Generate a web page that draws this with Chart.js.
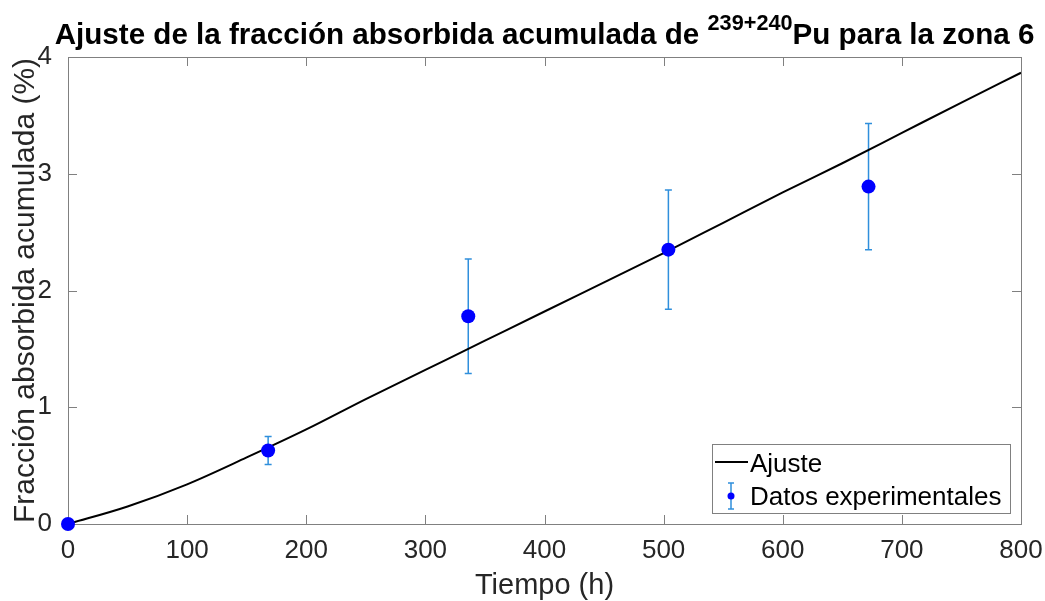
<!DOCTYPE html>
<html>
<head>
<meta charset="utf-8">
<script src="https://cdn.jsdelivr.net/npm/chart.js@4.4.0/dist/chart.umd.min.js"></script>
<style>
  html, body { margin: 0; padding: 0; background: #fff; }
  canvas { display: block; }
</style>
</head>
<body>
<canvas id="myChart" width="1045" height="601"></canvas>
<script>
// datos experimentales
const tiempo = [0, 168, 336, 504, 672];
const fraccion = [0, 0.63, 1.78, 2.35, 2.89];
const errorFraccion = [0, 0.12, 0.49, 0.51, 0.54];

// curva de ajuste
const tiempoAjuste = [0, 50, 100, 150, 200, 250, 300, 350, 400, 450, 500, 550, 600, 650, 700, 750, 800];
const fraccionAjuste = [0, 0.15, 0.34, 0.57, 0.81, 1.07, 1.32, 1.57, 1.82, 2.07, 2.32, 2.58, 2.84, 3.09, 3.35, 3.61, 3.865];

// ticks
const xTicks = [0, 100, 200, 300, 400, 500, 600, 700, 800];
const yTicks = [0, 1, 2, 3, 4];

const FONT = '"Liberation Sans", Arial, Helvetica, sans-serif';
const axisColor = '#808080';
const textColor = '#262626';
const barColor = '#2f8fdc';

Chart.defaults.font.family = FONT;

// caja de ejes con ticks hacia dentro
const ejes = {
  id: 'ejes',
  beforeDatasetsDraw(chart) {
    const { ctx, chartArea: a, scales: { x, y } } = chart;
    const tl = 9;
    ctx.save();
    ctx.strokeStyle = axisColor;
    ctx.lineWidth = 1;
    ctx.strokeRect(a.left + 0.5, a.top + 0.5, a.right - a.left, a.bottom - a.top);
    ctx.beginPath();
    xTicks.slice(1, -1).forEach(v => {
      const px = Math.round(x.getPixelForValue(v)) + 0.5;
      ctx.moveTo(px, a.bottom); ctx.lineTo(px, a.bottom - tl);
      ctx.moveTo(px, a.top); ctx.lineTo(px, a.top + tl);
    });
    yTicks.slice(1, -1).forEach(v => {
      const py = Math.round(y.getPixelForValue(v)) + 0.5;
      ctx.moveTo(a.left, py); ctx.lineTo(a.left + tl, py);
      ctx.moveTo(a.right, py); ctx.lineTo(a.right - tl, py);
    });
    ctx.stroke();

    // barras de error
    ctx.strokeStyle = barColor;
    ctx.lineWidth = 1.5;
    ctx.beginPath();
    tiempo.forEach((t, i) => {
      const px = x.getPixelForValue(t);
      const top = y.getPixelForValue(fraccion[i] + errorFraccion[i]);
      const bot = y.getPixelForValue(fraccion[i] - errorFraccion[i]);
      ctx.moveTo(px, top); ctx.lineTo(px, bot);
      ctx.moveTo(px - 3.5, top); ctx.lineTo(px + 3.5, top);
      ctx.moveTo(px - 3.5, bot); ctx.lineTo(px + 3.5, bot);
    });
    ctx.stroke();
    ctx.restore();
  }
};

// titulo con superindice y leyenda
const extras = {
  id: 'extras',
  afterDraw(chart) {
    const { ctx, chartArea: a } = chart;
    ctx.save();
    // titulo
    const t1 = 'Ajuste de la fracción absorbida acumulada de ';
    const sup = '239+240';
    const t2 = 'Pu para la zona 6';
    const big = 'bold 29.6px ' + FONT;
    const small = 'bold 21.7px ' + FONT;
    ctx.font = big;
    const w1 = ctx.measureText(t1).width;
    const w3 = ctx.measureText(t2).width;
    ctx.font = small;
    const w2 = ctx.measureText(sup).width;
    let tx = (a.left + a.right) / 2 - (w1 + w2 + w3) / 2;
    ctx.fillStyle = '#000';
    ctx.textBaseline = 'alphabetic';
    ctx.textAlign = 'left';
    ctx.font = big;
    ctx.fillText(t1, tx, 44);
    tx += w1;
    ctx.font = small;
    ctx.fillText(sup, tx, 30);
    tx += w2;
    ctx.font = big;
    ctx.fillText(t2, tx, 44);

    // leyenda
    const lx = 712.5, ly = 444.5, lw = 298, lh = 69;
    ctx.fillStyle = '#fff';
    ctx.fillRect(lx, ly, lw, lh);
    ctx.strokeStyle = axisColor;
    ctx.lineWidth = 1;
    ctx.strokeRect(lx, ly, lw, lh);

    ctx.strokeStyle = '#000';
    ctx.lineWidth = 2;
    ctx.beginPath();
    ctx.moveTo(715, 462); ctx.lineTo(748, 462);
    ctx.stroke();

    ctx.strokeStyle = barColor;
    ctx.lineWidth = 1.5;
    ctx.beginPath();
    ctx.moveTo(731, 483); ctx.lineTo(731, 509);
    ctx.moveTo(728, 483); ctx.lineTo(734, 483);
    ctx.moveTo(728, 509); ctx.lineTo(734, 509);
    ctx.stroke();
    ctx.fillStyle = '#0000ff';
    ctx.beginPath();
    ctx.arc(731, 496, 3.5, 0, Math.PI * 2);
    ctx.fill();

    ctx.fillStyle = '#000';
    ctx.font = '26px ' + FONT;
    ctx.fillText('Ajuste', 750, 471.5);
    ctx.fillText('Datos experimentales', 750, 505);
    ctx.restore();
  }
};

const ctx = document.getElementById('myChart').getContext('2d');

const myChart = new Chart(ctx, {
  type: 'scatter',
  data: {
    datasets: [{
      label: 'Datos experimentales',
      data: tiempo.map((t, i) => ({ x: t, y: fraccion[i] })),
      backgroundColor: '#0000ff',
      borderWidth: 0,
      pointRadius: 7,
      pointHoverRadius: 7,
      clip: false,
      order: 0
    }, {
      label: 'Ajuste',
      data: tiempoAjuste.map((t, i) => ({ x: t, y: fraccionAjuste[i] })),
      showLine: true,
      borderColor: '#000',
      borderWidth: 2,
      pointRadius: 0,
      cubicInterpolationMode: 'monotone',
      order: 1
    }]
  },
  options: {
    responsive: false,
    devicePixelRatio: 1,
    animation: false,
    layout: { padding: { top: 57, right: 24, left: 0, bottom: 0 } },
    plugins: {
      legend: { display: false },
      title: { display: false },
      tooltip: { enabled: false }
    },
    scales: {
      x: {
        type: 'linear',
        min: 0,
        max: 800,
        afterBuildTicks: s => { s.ticks = xTicks.map(v => ({ value: v })); },
        afterFit: s => { s.height = 77; s.paddingLeft = 0; s.paddingRight = 0; },
        grid: { display: false, drawTicks: false },
        border: { display: false },
        ticks: { color: textColor, font: { size: 26 }, padding: 11, maxRotation: 0 },
        title: {
          display: true,
          text: 'Tiempo (h)',
          color: textColor,
          font: { size: 29, lineHeight: 1 },
          padding: { top: 0, bottom: 1 }
        }
      },
      y: {
        type: 'linear',
        min: 0,
        max: 4,
        afterBuildTicks: s => { s.ticks = yTicks.map(v => ({ value: v })); },
        afterFit: s => { s.width = 68; s.paddingTop = 0; s.paddingBottom = 0; },
        grid: { display: false, drawTicks: false },
        border: { display: false },
        ticks: { color: textColor, font: { size: 26 }, padding: 16 },
        title: {
          display: true,
          text: 'Fracción absorbida acumulada (%)',
          color: textColor,
          font: { size: 30, lineHeight: 1 },
          padding: { top: 11, bottom: 0 }
        }
      }
    }
  },
  plugins: [ejes, extras]
});
</script>
</body>
</html>
